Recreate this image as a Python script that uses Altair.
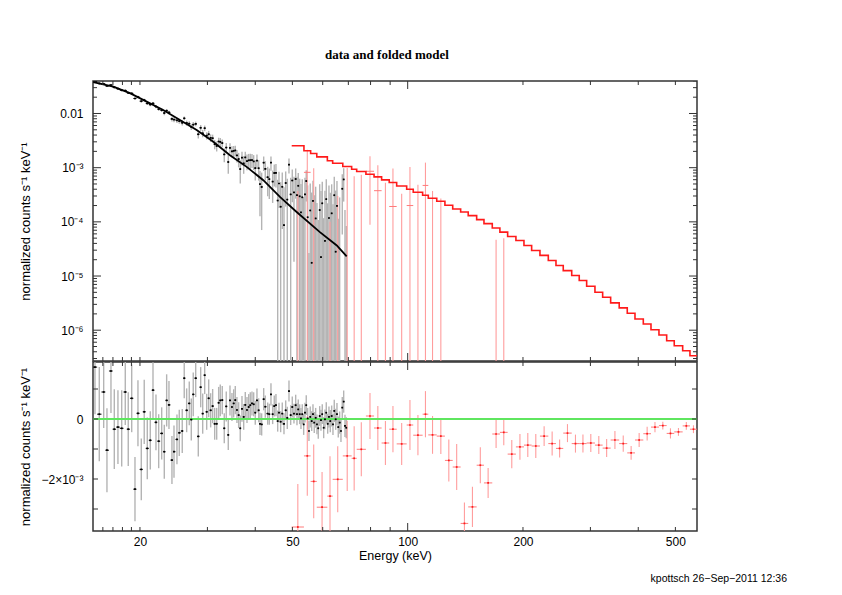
import altair as alt
import numpy as np
import pandas as pd

# ---------------- data ----------------
# black spectrum: energy (keV), residual (1e-4), error (1e-4)
blk_E = [15.26, 15.66, 16.08, 16.40, 16.80, 17.14, 17.52, 17.92, 18.31, 18.64,
         19.03, 19.41, 19.76, 20.16, 20.52, 20.90, 21.28, 21.63, 22.02, 22.38,
         22.79, 23.15, 23.48, 23.81, 24.24, 24.54, 24.98, 25.33, 25.79, 26.10,
         26.48, 26.90, 27.23, 27.55, 27.96, 28.40, 28.81, 29.16, 29.51, 29.87,
         30.23, 30.59, 30.96, 31.34, 31.72, 32.10, 32.41, 32.80, 33.20, 33.60,
         34.01, 34.36, 34.77, 35.13, 35.47, 35.83, 36.20, 36.55, 36.93, 37.31,
         37.67, 38.06, 38.45, 38.82, 39.22, 39.62, 40.00, 40.41, 40.83, 41.15,
         41.57, 42.08, 42.48, 43.10, 43.52, 43.96, 44.41, 44.84, 45.30, 45.77,
         46.13, 46.60, 47.05, 47.54, 48.03, 48.49, 48.99, 49.49, 49.97, 50.48,
         51.00, 51.40, 51.80, 52.24, 52.65, 53.06, 53.51, 53.93, 54.35, 54.81,
         55.24, 55.67, 56.15, 56.59, 57.03, 57.51, 57.96, 58.42, 58.92, 59.38,
         59.84, 60.35, 60.82, 61.30, 61.82, 62.30, 62.79, 63.32, 63.82, 64.32,
         64.86, 65.37, 65.89, 66.44, 66.96, 67.49, 68.06, 68.60, 69.13]
blk_res = [17.3, 1.6, 9.0, -10.4, 16.0, -3.4, -2.7, -3.1, 9.0, -3.4,
           6.9, -23.4, 1.9, -16.8, 2.4, -9.8, -7.1, 9.6, -1.1, -7.4,
           -4.8, -10.9, 6.2, 4.7, -13.7, -10.9, -6.8, -4.6, -4.0, 13.6,
           2.9, 5.2, -0.2, 8.2, 13.6, -5.8, 10.6, 1.8, 14.6, 2.4,
           6.9, 2.9, 4.3, -1.6, -1.6, 5.4, 6.2, 6.3, -3.1, 4.2,
           -5.3, 6.2, 4.0, 5.2, 6.3, 3.0, 1.3, -3.1, 3.4, 0.7,
           4.7, 3.0, 4.0, 4.6, 5.2, 4.9, 2.1, 6.2, 2.9, -1.6,
           -1.8, 6.6, 4.1, 1.8, 1.6, 8.2, 1.6, 4.3, 4.6, -0.7,
           2.1, -0.9, 1.8, -1.6, 2.9, 0.4, 9.3, 1.3, 4.0, 1.8,
           4.6, 1.6, 3.2, 1.6, 0.2, 1.6, -1.8, 2.1, 4.6, 0.2,
           -4.0, 0.7, -0.7, 1.6, -1.2, 0.4, -1.8, -3.1, 1.0, -0.4,
           1.6, -2.9, -0.1, 2.1, -1.6, 0.7, -0.7, 1.0, -1.8, 2.7,
           -0.1, 1.6, -2.7, -1.2, -4.0, 3.8, 5.8, -2.3, -2.9]
blk_err = [15.7, 15.7, 12.0, 14.0, 14.0, 13.3, 12.3, 12.7, 11.0, 12.3,
           11.3, 10.7, 11.0, 10.3, 10.7, 10.3, 9.7, 9.3, 9.3, 9.0,
           8.7, 9.0, 8.7, 8.0, 8.0, 8.7, 8.3, 7.7, 7.3, 6.7,
           7.3, 7.3, 7.0, 7.3, 6.3, 6.7, 6.7, 6.7, 6.3, 6.0,
           6.3, 5.7, 5.7, 5.3, 5.3, 5.3, 5.3, 4.7, 5.0, 5.0,
           5.0, 5.0, 4.7, 4.7, 4.7, 4.3, 4.3, 4.3, 4.3, 4.3,
           4.3, 4.3, 4.3, 4.3, 4.0, 4.0, 4.0, 4.0, 4.0, 3.7,
           3.7, 3.7, 3.7, 3.7, 3.5, 3.7, 3.3, 3.5, 3.7, 3.5,
           3.3, 3.5, 3.7, 3.5, 3.3, 3.7, 3.5, 3.3, 3.5, 3.3,
           3.5, 3.7, 3.3, 3.3, 3.5, 3.3, 3.5, 3.3, 3.3, 3.5,
           3.3, 3.5, 3.3, 3.3, 3.5, 3.3, 3.3, 3.5, 3.3, 3.5,
           3.3, 3.5, 3.3, 3.5, 3.3, 3.5, 3.7, 3.5, 3.5, 3.7,
           3.5, 3.7, 3.5, 3.7, 3.7, 3.5, 3.7, 3.7, 3.5]
# black folded model curve
bmod_E = [15.1, 17.03, 18.83, 20.82, 23.0, 25.43, 28.12, 31.08, 34.36,
          37.98, 41.98, 46.4, 51.3, 59.0, 65.3, 69.3]
bmod_V = [0.0379, 0.0313, 0.0237, 0.01654, 0.01161, 7.58e-3, 4.95e-3, 3.01e-3,
          1.70e-3, 1.035e-3, 5.87e-4, 2.88e-4, 1.52e-4, 6.47e-5, 3.67e-5, 2.3e-5]

# red spectrum: bin edges (keV), folded model, residual (1e-3), error (1e-3)
red_edges = [49.8, 53.6, 55.8, 57.9, 61.7, 63.7, 67.7, 71.4, 73.6, 77.8, 81.7,
             85.5, 89.5, 93.6, 99.4, 103.4, 109.4, 113.2, 119.1, 125.1, 131.1,
             137.5, 143.9, 151.4, 158.2, 166.3, 174.1, 182.4, 191.7, 201.2, 210.7,
             221.5, 232.9, 243.9, 254.8, 268.1, 280.5, 293.3, 308.3, 322.9, 338.8,
             356.7, 374.4, 392.2, 412.3, 431.8, 453.0, 474.5, 496.6, 522.4, 545.8,
             569.3]
red_model = [2.54e-3, 2.05e-3, 1.83e-3, 1.58e-3, 1.34e-3, 1.21e-3, 1.05e-3, 9.38e-4,
             8.51e-4, 7.58e-4, 6.76e-4, 5.95e-4, 5.32e-4, 4.60e-4, 4.00e-4, 3.52e-4,
             3.10e-4, 2.72e-4, 2.40e-4, 2.02e-4, 1.73e-4, 1.52e-4, 1.30e-4, 1.10e-4,
             9.27e-5, 7.68e-5, 6.47e-5, 5.38e-5, 4.54e-5, 3.67e-5, 2.96e-5, 2.40e-5,
             1.94e-5, 1.56e-5, 1.26e-5, 1.02e-5, 8.26e-6, 6.48e-6, 5.01e-6, 4.05e-6,
             3.19e-6, 2.58e-6, 2.05e-6, 1.61e-6, 1.30e-6, 1.02e-6, 8.14e-7, 6.39e-7,
             5.17e-7, 4.17e-7, 3.37e-7]
red_res = [-3.60, -1.23, -2.08, -2.94, -2.57, -2.01, -1.23, -1.31, -1.01, 0.10,
           -0.30, -0.80, -0.34, -0.83, -0.20, -0.54, 0.16, -0.53, -0.57, -1.38,
           -1.60, -3.48, -2.93, -1.54, -2.13, -0.50, -0.445, -1.17, -0.93, -0.87,
           -0.90, -0.57, -0.82, -0.98, -0.47, -0.82, -0.82, -0.80, -0.87, -0.97,
           -0.70, -0.82, -1.13, -0.70, -0.49, -0.27, -0.22, -0.48, -0.43, -0.23, -0.34]
red_err = [1.43, 1.33, 1.23, 1.17, 1.33, 1.10, 1.17, 1.07, 0.90, 0.77,
           0.73, 0.73, 0.77, 0.70, 0.83, 0.67, 0.77, 0.63, 0.60, 0.70,
           0.77, 0.70, 0.67, 0.60, 0.50, 0.47, 0.43, 0.47, 0.43, 0.40,
           0.40, 0.33, 0.40, 0.30, 0.30, 0.30, 0.30, 0.30, 0.30, 0.30,
           0.30, 0.27, 0.23, 0.23, 0.23, 0.17, 0.13, 0.17, 0.13, 0.13, 0.13]

# axis labels / ticks
x_labels = [20, 50, 100, 200, 500]
ytop_labels = [1e-2, 1e-3, 1e-4, 1e-5, 1e-6]
ybot_labels = [0, -2e-3]
x_minor = [16, 17, 18, 19, 20, 30, 40, 50, 60, 70, 80, 90, 200, 300, 400, 500]
x_major = [100]
ytop_major = [1e-2, 1e-3, 1e-4, 1e-5, 1e-6]
ytop_minor = [m * 10.0 ** k for k in range(-7, -1) for m in range(2, 10)]
ybot_ticks = [1e-3, 0.0, -1e-3, -2e-3, -3e-3]

# ---------------- geometry & style ----------------
XMIN, XMAX = 15.08, 569.4
YMIN, YMAX = 2.7e-7, 0.0398
RMIN, RMAX = -3.733e-3, 1.9e-3
W, HT, HB = 604, 280, 169
FONT = "Liberation Sans"
FRAME = "#333333"
GRAY = "#b4b4b4"
PINK = "#ff9d9d"
RED = "#ff1a1a"

xs = alt.Scale(type="log", domain=[XMIN, XMAX], nice=False)
ys_top = alt.Scale(type="log", domain=[YMIN, YMAX], nice=False)
ys_bot = alt.Scale(domain=[RMIN, RMAX], nice=False, zero=False)

# ---------------- derived tables ----------------
E = np.array(blk_E)
bres = np.array(blk_res) * 1e-4
berr = np.array(blk_err) * 1e-4
lE = np.log10(E)
mid = (lE[1:] + lE[:-1]) / 2
belo = 10 ** np.concatenate([[2 * lE[0] - mid[0]], mid])
behi = 10 ** np.concatenate([mid, [2 * lE[-1] - mid[-1]]])
bmod_at = 10 ** np.interp(lE, np.log10(bmod_E), np.log10(bmod_V))
bdat = bmod_at + bres
FLOOR = YMIN * 0.3

tb = pd.DataFrame(dict(E=E, elo=belo, ehi=behi, v=bdat,
                       lo=np.maximum(bdat - berr, FLOOR), hi=bdat + berr))
tb_bars = tb[tb.hi > YMIN]
tb_pts = tb[tb.v > YMIN]
bb = pd.DataFrame(dict(E=E, elo=belo, ehi=behi, v=bres, lo=bres - berr, hi=bres + berr))

redg = np.array(red_edges)
rlo, rhi = redg[:-1], redg[1:]
rE = np.sqrt(rlo * rhi)
rmod = np.array(red_model)
rres = np.array(red_res) * 1e-3
rerr = np.array(red_err) * 1e-3
rdat = rmod + rres
tr = pd.DataFrame(dict(E=rE, elo=rlo, ehi=rhi, v=rdat,
                       lo=np.maximum(rdat - rerr, FLOOR), hi=rdat + rerr))
tr_bars = tr[tr.hi > YMIN]
tr_pts = tr[tr.v > YMIN]
br = pd.DataFrame(dict(E=rE, elo=rlo, ehi=rhi, v=rres, lo=rres - rerr, hi=rres + rerr))

step = pd.DataFrame({"E": np.ravel(np.column_stack([rlo, rhi])),
                     "v": np.repeat(rmod, 2),
                     "o": np.arange(2 * len(rmod))})
bmodel = pd.DataFrame({"E": bmod_E, "v": bmod_V})

# ---------------- axes ----------------
ytitle = "normalized counts s\u207b\u00b9 keV\u207b\u00b9"
ax_y_top = alt.Axis(values=ytop_labels, ticks=False, tickSize=0, domain=False, grid=False,
                    labelExpr="datum.value > 0.005 ? '0.01' : datum.value > 0.0005 ? '10\u207b\u00b3' : "
                              "datum.value > 0.00005 ? '10\u207b\u2074' : datum.value > 0.000005 ? '10\u207b\u2075' : '10\u207b\u2076'",
                    labelFont=FONT, labelFontSize=12, labelColor="black", labelPadding=10,
                    title=ytitle, titleFont=FONT, titleFontSize=13, titleFontWeight="normal",
                    titleColor="black", titleX=-68, titleBaseline="middle")
ax_y_bot = alt.Axis(values=ybot_labels, ticks=False, tickSize=0, domain=False, grid=False,
                    labelExpr="datum.value == 0 ? '0' : '\u22122\u00d710\u207b\u00b3'",
                    labelFont=FONT, labelFontSize=12, labelColor="black", labelPadding=10,
                    title=ytitle, titleFont=FONT, titleFontSize=13, titleFontWeight="normal",
                    titleColor="black", titleX=-68, titleBaseline="middle")
ax_x_bot = alt.Axis(values=x_labels, ticks=False, tickSize=0, domain=False, grid=False,
                    labelExpr="format(datum.value, 'd')", labelFont=FONT, labelFontSize=12,
                    labelColor="black", labelPadding=5, title="Energy (keV)", titleFont=FONT,
                    titleFontSize=12.5, titleFontWeight="normal", titleColor="black", titlePadding=2)


def XT(f):
    return alt.X(f + ":Q", scale=xs, axis=None)


def XB(f):
    return alt.X(f + ":Q", scale=xs, axis=ax_x_bot)


def YT(f):
    return alt.Y(f + ":Q", scale=ys_top, axis=ax_y_top)


def YB(f):
    return alt.Y(f + ":Q", scale=ys_bot, axis=ax_y_bot)


def xtick_rules(vals, L, H, xfun):
    d = pd.DataFrame({"t": vals})
    base = alt.Chart(d).mark_rule(color=FRAME, strokeWidth=1, clip=True)
    return [base.encode(x=xfun("t"), y=alt.value(0), y2=alt.value(L)),
            base.encode(x=xfun("t"), y=alt.value(H), y2=alt.value(H - L))]


def ytick_rules(vals, L, yfun):
    d = pd.DataFrame({"t": vals})
    base = alt.Chart(d).mark_rule(color=FRAME, strokeWidth=1, clip=True)
    return [base.encode(y=yfun("t"), x=alt.value(0), x2=alt.value(L)),
            base.encode(y=yfun("t"), x=alt.value(W), x2=alt.value(W - L))]


# ---------------- top panel ----------------
top_layers = [
    alt.Chart(tb_bars).mark_rule(color=GRAY, strokeWidth=1.4, clip=True).encode(
        x=XT("E"), y=YT("lo"), y2="hi"),
    alt.Chart(tr_bars).mark_rule(color=PINK, strokeWidth=1.1, clip=True).encode(
        x=XT("E"), y=YT("lo"), y2="hi"),
    alt.Chart(bmodel).mark_line(color="black", strokeWidth=1.8, clip=True).encode(
        x=XT("E"), y=YT("v")),
    alt.Chart(tb_pts).mark_rule(color="black", strokeWidth=1, clip=True).encode(
        x=XT("elo"), x2="ehi", y=YT("v")),
    alt.Chart(tb_pts).mark_square(size=3, color="black", opacity=1, clip=True).encode(
        x=XT("E"), y=YT("v")),
    alt.Chart(tr_pts).mark_rule(color="#ff7a7a", strokeWidth=1, clip=True).encode(
        x=XT("elo"), x2="ehi", y=YT("v")),
    alt.Chart(step).mark_line(color=RED, strokeWidth=1.6, clip=True).encode(
        x=XT("E"), y=YT("v"), order="o:Q"),
]
top_layers += xtick_rules(x_minor, 4, HT, XT) + xtick_rules(x_major, 8, HT, XT)
top_layers += ytick_rules(ytop_minor, 4, YT) + ytick_rules(ytop_major, 8, YT)
top_layers.append(
    alt.Chart(pd.DataFrame({"t": ["data and folded model"]})).mark_text(
        font="Liberation Serif", fontWeight="bold", fontSize=13, color="black",
        align="center", baseline="middle").encode(
        text="t:N", x=alt.value(294), y=alt.value(-26)))
top = alt.layer(*top_layers).properties(width=W, height=HT)

# ---------------- bottom panel ----------------
bot_layers = [
    alt.Chart(bb).mark_rule(color=GRAY, strokeWidth=1.4, clip=True).encode(
        x=XB("E"), y=YB("lo"), y2="hi"),
    alt.Chart(br).mark_rule(color=PINK, strokeWidth=1.1, clip=True).encode(
        x=XB("E"), y=YB("lo"), y2="hi"),
    alt.Chart(pd.DataFrame({"z": [0.0]})).mark_rule(color="#5fe65f", strokeWidth=2.2).encode(
        y=YB("z")),
    alt.Chart(bb).mark_rule(color="black", strokeWidth=1, clip=True).encode(
        x=XB("elo"), x2="ehi", y=YB("v")),
    alt.Chart(bb).mark_square(size=3, color="black", opacity=1, clip=True).encode(
        x=XB("E"), y=YB("v")),
    alt.Chart(br).mark_rule(color="#ff7a7a", strokeWidth=1, clip=True).encode(
        x=XB("elo"), x2="ehi", y=YB("v")),
    alt.Chart(br).mark_square(size=3, color=RED, opacity=1, clip=True).encode(
        x=XB("E"), y=YB("v")),
]
bot_layers += xtick_rules(x_minor, 4, HB, XB) + xtick_rules(x_major, 8, HB, XB)
bot_layers += ytick_rules(ybot_ticks, 5, YB)
bot_layers.append(
    alt.Chart(pd.DataFrame({"t": ["kpottsch 26\u2212Sep\u22122011 12:36"]})).mark_text(
        font=FONT, fontSize=10.5, color="black", align="right", baseline="middle").encode(
        text="t:N", x=alt.value(694), y=alt.value(217)))
bot = alt.layer(*bot_layers).properties(width=W, height=HB)

chart = alt.vconcat(top, bot, spacing=-2).properties(
    padding={"left": 18, "top": 48, "right": 5, "bottom": 5},
    background="white",
).configure_view(stroke=FRAME, strokeWidth=1.5).configure_axis(grid=False)

chart.save("out.html", embed_options={"renderer": "svg", "actions": False})
